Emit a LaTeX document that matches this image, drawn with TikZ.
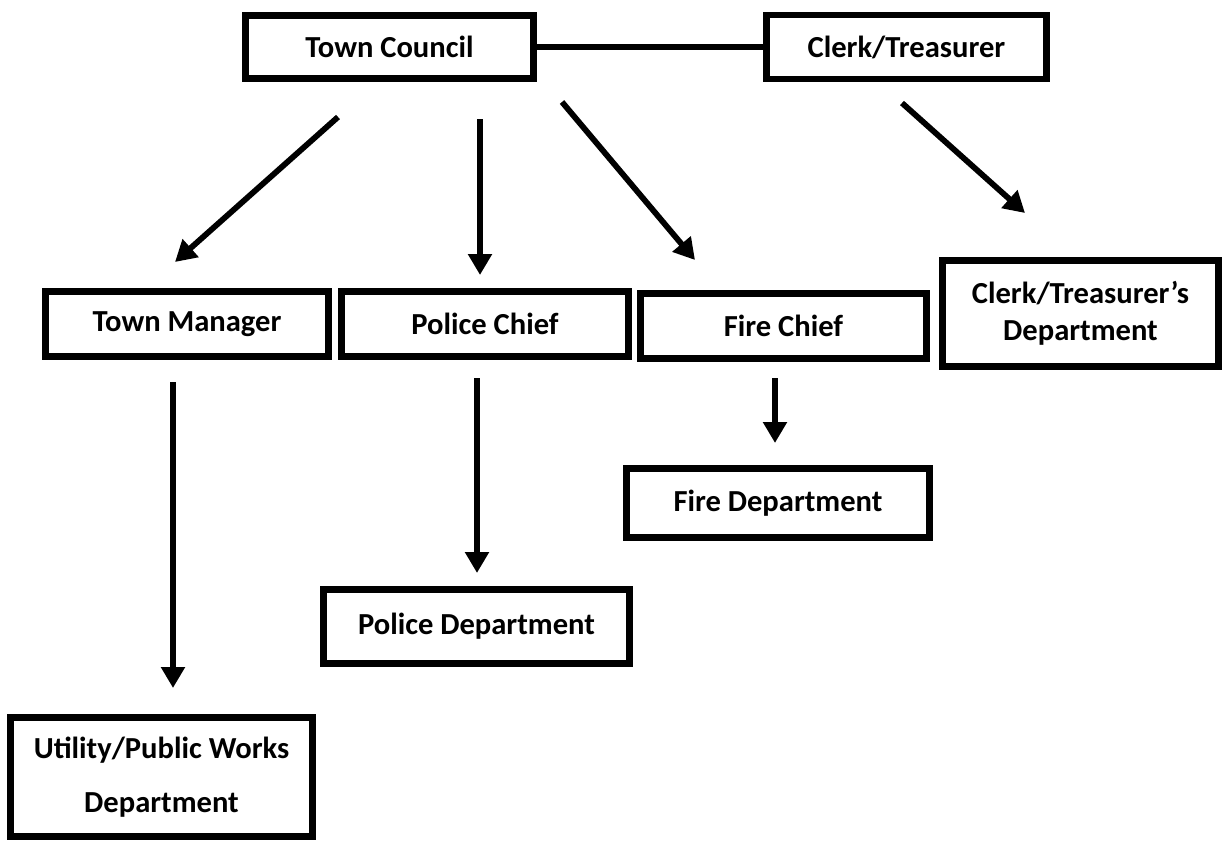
\documentclass[tikz,border=0pt]{standalone}
\usepackage{fontspec}
\setmainfont{Carlito}
\usetikzlibrary{arrows.meta, positioning}

\begin{document}
\begin{tikzpicture}[x=0.02cm, y=-0.02cm,
  box/.style={draw, line width=3.8pt, inner sep=2pt, align=center, font=\bfseries\fontsize{17.4}{21}\selectfont},
  tallbox/.style={box, font=\bfseries\fontsize{17.4}{31}\selectfont},
  arr/.style={-{Triangle[length=0.42cm, width=0.46cm]}, line width=3.3pt},
  link/.style={line width=3.6pt}
]
  \useasboundingbox (0,0) rectangle (1225,842);

  % Top row
  \node[box, minimum width=5.76cm, minimum height=1.26cm] (council) at (389.5, 47) {Town Council};
  \node[box, minimum width=5.60cm, minimum height=1.28cm] (clerk) at (906.5, 47) {Clerk/Treasurer};
  \draw[link] (council) -- (clerk);

  % Second row
  \node[box, minimum width=5.66cm, minimum height=1.30cm] (manager) at (187, 324) {Town Manager};
  \node[box, minimum width=5.74cm, minimum height=1.30cm] (pchief) at (485, 324) {Police Chief};
  \node[box, minimum width=5.72cm, minimum height=1.30cm] (fchief) at (783.5, 326) {Fire Chief};
  \node[box, minimum width=5.52cm, minimum height=2.12cm] (cdept) at (1080.5, 313.5) {Clerk/Treasurer’s\\Department};

  % Departments
  \node[box, minimum width=6.06cm, minimum height=1.38cm] (fdept) at (778, 503) {Fire Department};
  \node[box, minimum width=6.12cm, minimum height=1.48cm] (pdept) at (476.5, 626.5) {Police Department};
  \node[tallbox, minimum width=6.04cm, minimum height=2.38cm] (works) at (161.5, 777) {Utility/Public Works\\Department};

  % Arrow ends
  \coordinate (council-m) at (338, 117);
  \coordinate (council-p) at (480, 119);
  \coordinate (council-f) at (562, 102);
  \coordinate (clerk-d) at (902, 103);
  \coordinate (manager-in) at (175, 262);
  \coordinate (pchief-in) at (480, 275);
  \coordinate (fchief-in) at (695, 260);
  \coordinate (cdept-in) at (1025, 213);
  \coordinate (manager-out) at (173, 382);
  \coordinate (works-in) at (173, 688);
  \coordinate (pchief-out) at (477, 378);
  \coordinate (pdept-in) at (477, 573);
  \coordinate (fchief-out) at (775, 378);
  \coordinate (fdept-in) at (775, 443);

  \draw[arr] (council-m) -- (manager-in);
  \draw[arr] (council-p) -- (pchief-in);
  \draw[arr] (council-f) -- (fchief-in);
  \draw[arr] (clerk-d) -- (cdept-in);
  \draw[arr] (manager-out) -- (works-in);
  \draw[arr] (pchief-out) -- (pdept-in);
  \draw[arr] (fchief-out) -- (fdept-in);
\end{tikzpicture}
\end{document}
